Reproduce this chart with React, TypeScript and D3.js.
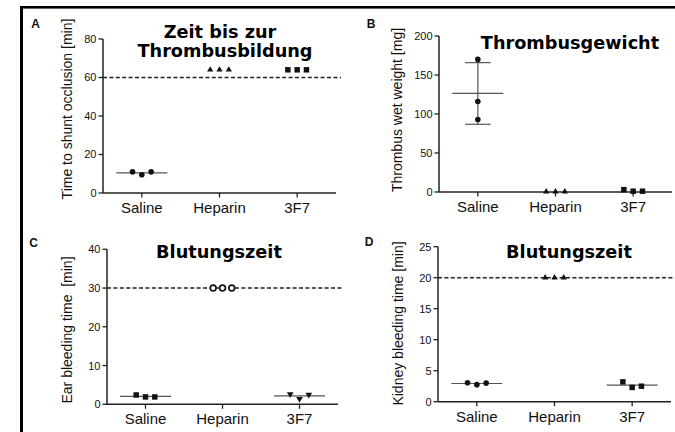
import React from "react";
import * as d3 from "d3";

// ---------- data ----------
const categories = ["Saline", "Heparin", "3F7"];

const occlusionTime = [
  [11, 9.5, 11],
  [64, 64, 64],
  [64, 64, 64],
];
const thrombusWeight = [
  [170, 116, 93],
  [0.5, 0.5, 0.5],
  [3, 1, 1],
];
const earBleeding = [
  [2.4, 1.9, 1.9],
  [30, 30, 30],
  [2.6, 1.4, 2.5],
];
const kidneyBleeding = [
  [3.05, 2.75, 3.0],
  [20, 20, 20],
  [3.2, 2.3, 2.5],
];

const occlusionTicks = [0, 20, 40, 60, 80];
const weightTicks = [0, 50, 100, 150, 200];
const earTicks = [0, 10, 20, 30, 40];
const kidneyTicks = [0, 5, 10, 15, 20, 25];

// ---------- layout / style ----------
type Marker = "circle" | "triangle" | "square" | "openCircle" | "triangleDown";

interface PanelSpec {
  letter: string;
  letterPos: [number, number];
  values: number[][];
  ticks: number[];
  domain: [number, number];
  xRange: [number, number];
  yRange: [number, number];
  yLabel: string;
  yLabelPos: [number, number];
  title: { text: string; x: number; y: number }[];
  markers: Marker[];
  showMean: boolean[];
  showSD: boolean[];
  spread: boolean[];
  cutoff?: number;
  cutoffEnd?: number;
}

const panels: PanelSpec[] = [
  {
    letter: "A",
    letterPos: [35.5, 28.3],
    values: occlusionTime,
    ticks: occlusionTicks,
    domain: [0, 80],
    xRange: [103, 336],
    yRange: [193, 39],
    yLabel: "Time to shunt occlusion [min]",
    yLabelPos: [72, 109],
    title: [
      { text: "Zeit bis zur", x: 220, y: 37.7 },
      { text: "Thrombusbildung", x: 225, y: 56.7 },
    ],
    markers: ["circle", "triangle", "square"],
    showMean: [true, false, false],
    showSD: [false, false, false],
    spread: [true, true, true],
    cutoff: 60,
    cutoffEnd: 341,
  },
  {
    letter: "B",
    letterPos: [371, 28.3],
    values: thrombusWeight,
    ticks: weightTicks,
    domain: [0, 200],
    xRange: [439, 672],
    yRange: [192, 36],
    yLabel: "Thrombus wet weight [mg]",
    yLabelPos: [402, 110],
    title: [{ text: "Thrombusgewicht", x: 570, y: 49 }],
    markers: ["circle", "triangle", "square"],
    showMean: [true, false, false],
    showSD: [true, false, false],
    spread: [false, true, true],
  },
  {
    letter: "C",
    letterPos: [33.7, 246.7],
    values: earBleeding,
    ticks: earTicks,
    domain: [0, 40],
    xRange: [107, 338],
    yRange: [404.3, 249.3],
    yLabel: "Ear bleeding time  [min]",
    yLabelPos: [72, 330],
    title: [{ text: "Blutungszeit", x: 219, y: 258 }],
    markers: ["square", "openCircle", "triangleDown"],
    showMean: [true, false, true],
    showSD: [false, false, false],
    spread: [true, true, true],
    cutoff: 30,
    cutoffEnd: 343,
  },
  {
    letter: "D",
    letterPos: [369, 246],
    values: kidneyBleeding,
    ticks: kidneyTicks,
    domain: [0, 25],
    xRange: [438, 671],
    yRange: [401.7, 246.7],
    yLabel: "Kidney bleeding time [min]",
    yLabelPos: [403, 323.5],
    title: [{ text: "Blutungszeit", x: 569, y: 258 }],
    markers: ["circle", "triangle", "square"],
    showMean: [true, false, true],
    showSD: [false, false, false],
    spread: [true, true, true],
    cutoff: 20,
    cutoffEnd: 675,
  },
];

const AXIS_FONT = "'Liberation Sans', Arial, Helvetica, sans-serif";
const TITLE_FONT = "'DejaVu Sans', Verdana, sans-serif";
const AXIS_COLOR = "#222";
const TEXT_COLOR = "#111";
const MEAN_COLOR = "#555";
const JITTER = [-9.3, 0, 9.3];

function MarkerShape({ kind, x, y }: { kind: Marker; x: number; y: number }) {
  if (kind === "circle") return <circle cx={x} cy={y} r={2.8} fill="#111" />;
  if (kind === "openCircle")
    return <circle cx={x} cy={y} r={2.9} fill="#fff" stroke="#111" strokeWidth={1.6} />;
  if (kind === "square")
    return <path d={d3.symbol(d3.symbolSquare, 30)()!} transform={`translate(${x},${y})`} fill="#111" />;
  if (kind === "triangle")
    return <path d={d3.symbol(d3.symbolTriangle, 17)()!} transform={`translate(${x},${y})`} fill="#111" />;
  return (
    <path d={d3.symbol(d3.symbolTriangle, 19)()!} transform={`translate(${x},${y}) rotate(180)`} fill="#111" />
  );
}

function Panel({ p }: { p: PanelSpec }) {
  const x = d3.scaleBand<string>().domain(categories).range(p.xRange).padding(0);
  const y = d3.scaleLinear().domain(p.domain).range(p.yRange);
  const x0 = p.xRange[0];
  const y0 = y(p.domain[0]);
  const bw = x.bandwidth();
  return (
    <g>
      <text x={p.letterPos[0]} y={p.letterPos[1]} textAnchor="middle" fontFamily={AXIS_FONT}
        fontWeight="bold" fontSize={12} fill={TEXT_COLOR}>{p.letter}</text>
      {p.title.map((t, i) => (
        <text key={i} x={t.x} y={t.y} textAnchor="middle" fontFamily={TITLE_FONT}
          fontWeight="bold" fontSize={17.7} fill="#000">{t.text}</text>
      ))}
      <text transform={`translate(${p.yLabelPos[0]},${p.yLabelPos[1]}) rotate(-90)`} textAnchor="middle"
        fontFamily={AXIS_FONT} fontSize={14} fill={TEXT_COLOR} style={{ whiteSpace: "pre" }}>{p.yLabel}</text>
      {p.cutoff !== undefined && (
        <line x1={x0} x2={p.cutoffEnd} y1={y(p.cutoff)} y2={y(p.cutoff)} stroke="#222"
          strokeWidth={1.5} strokeDasharray="4,2.4" />
      )}
      {/* y axis */}
      <line x1={x0} x2={x0} y1={y0} y2={y(p.domain[1])} stroke={AXIS_COLOR} strokeWidth={1.5} />
      {p.ticks.map((t) => (
        <g key={t}>
          <line x1={x0 - 4.5} x2={x0} y1={y(t)} y2={y(t)} stroke={AXIS_COLOR} strokeWidth={1.3} />
          <text x={x0 - 6.5} y={y(t)} dy="0.36em" textAnchor="end" fontFamily={AXIS_FONT}
            fontSize={11} fill={TEXT_COLOR}>{t}</text>
        </g>
      ))}
      {/* x axis */}
      <line x1={x0} x2={p.xRange[1]} y1={y0} y2={y0} stroke={AXIS_COLOR} strokeWidth={1.5} />
      {categories.map((c) => {
        const cx = x(c)! + bw / 2;
        return (
          <g key={c}>
            <line x1={cx} x2={cx} y1={y0} y2={y0 + 4.5} stroke={AXIS_COLOR} strokeWidth={1.3} />
            <text x={cx} y={y0 + 20} textAnchor="middle" fontFamily={AXIS_FONT} fontSize={15}
              fill={TEXT_COLOR}>{c}</text>
          </g>
        );
      })}
      {/* summary lines */}
      {categories.map((c, ci) => {
        const cx = x(c)! + bw / 2;
        const vals = p.values[ci];
        const m = d3.mean(vals)!;
        const sd = d3.deviation(vals) ?? 0;
        return (
          <g key={"m" + c}>
            {p.showSD[ci] && (
              <g stroke={MEAN_COLOR} strokeWidth={1.2}>
                <line x1={cx} x2={cx} y1={y(m - sd)} y2={y(m + sd)} />
                <line x1={cx - 12.8} x2={cx + 12.8} y1={y(m + sd)} y2={y(m + sd)} />
                <line x1={cx - 12.8} x2={cx + 12.8} y1={y(m - sd)} y2={y(m - sd)} />
              </g>
            )}
            {p.showMean[ci] && (
              <line x1={cx - 25.5} x2={cx + 25.5} y1={y(m)} y2={y(m)} stroke={MEAN_COLOR} strokeWidth={1.2} />
            )}
          </g>
        );
      })}
      {/* points */}
      {categories.map((c, ci) => {
        const cx = x(c)! + bw / 2;
        return p.values[ci].map((v, vi) => (
          <MarkerShape key={c + vi} kind={p.markers[ci]} x={cx + (p.spread[ci] ? JITTER[vi] : 0)} y={y(v)} />
        ));
      })}
    </g>
  );
}

export default function App() {
  return (
    <svg width={675} height={432} style={{ position: "absolute", left: 0, top: 0, background: "#fff" }}>
      <rect x={0} y={0} width={675} height={432} fill="#fff" />
      <rect x={20} y={6} width={655} height={2.6} fill="#000" />
      <rect x={20} y={6} width={3} height={426} fill="#000" />
      {panels.map((p) => (
        <Panel key={p.letter} p={p} />
      ))}
    </svg>
  );
}
